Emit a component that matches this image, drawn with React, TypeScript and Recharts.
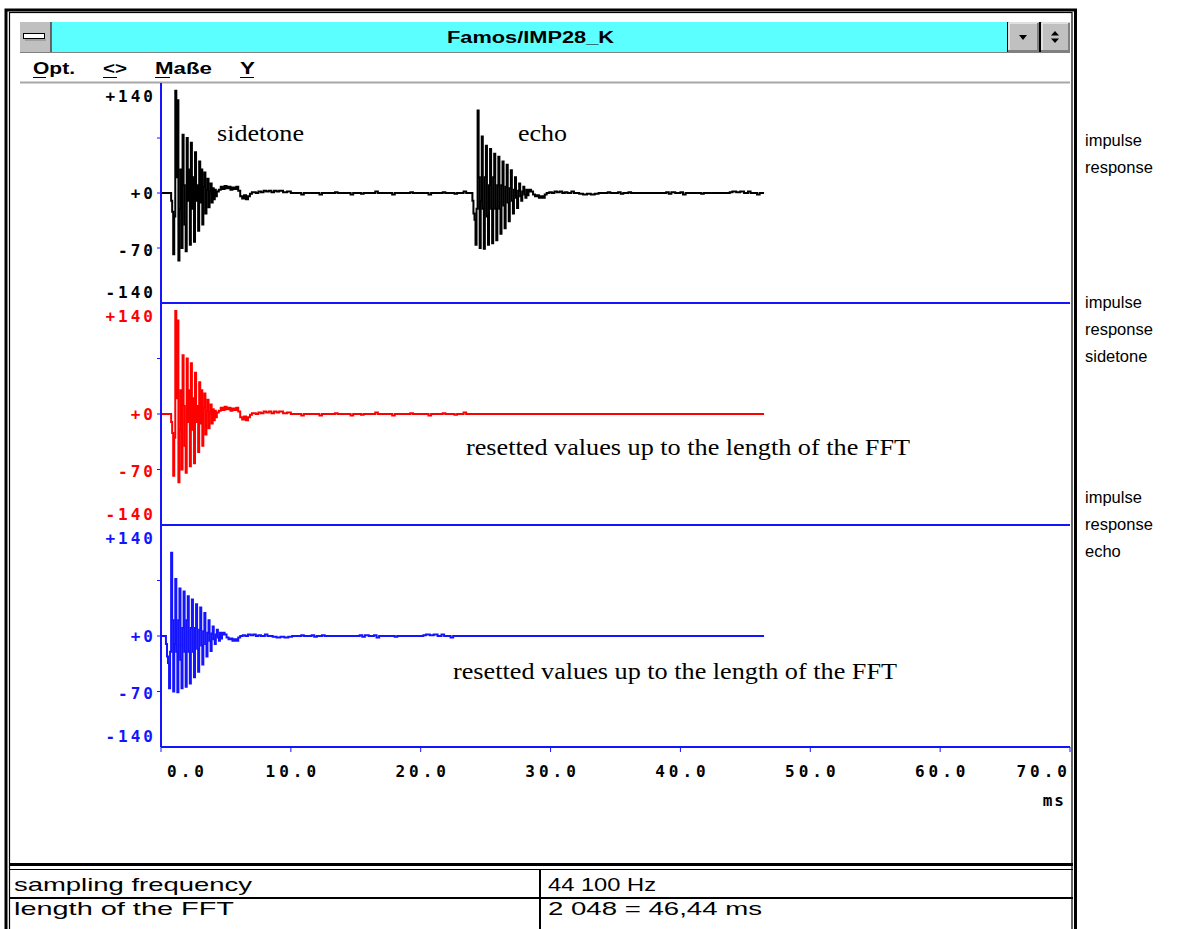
import { LineChart, Line, XAxis, YAxis, ReferenceLine } from "recharts";

// grid the bursts were read on (ms between readings, about one screen pixel)
const STEP_MS = 0.08;
const FFT_END_MS = 46.44;
const SIDETONE_START_MS = 0.7;
const ECHO_START_MS = 23.9;
const ECHO_ALONE_START_MS = 0.3;

// sidetone burst, values read every STEP_MS from SIDETONE_START_MS
const sidetoneBurst = [
  0, -10, -24, -78, -30, 130, 20, 118, -86, -20, 30, -70, 74, 10, -40, -74, 70, -10, 30, -66, 64,
  -20, 20, -62, 52, -10, 10, -48, 40, -12, 30, -40, 8, 26, -26, 4, 18, -18, 2, 12, -12, 6, -8, 4, -4, 2,
];

// small residue after the sidetone [ms, value]
const sidetoneTail = [
  [4.45, 4], [4.6, 8], [4.75, 5], [4.9, 9], [5.05, 6], [5.2, 8], [5.35, 4], [5.5, 7], [5.65, 5],
  [5.8, 8], [5.95, 3], [6.1, -4], [6.25, -7], [6.4, -3], [6.55, -8], [6.7, -4], [6.85, -1], [7.0, 1],
  [7.3, 0], [7.5, 2], [7.7, 1], [7.9, 3], [8.1, 2], [8.3, 3], [8.5, 1], [8.7, 3], [8.9, 2], [9.1, 3],
  [9.4, 1], [9.7, 2], [10.0, 0], [10.6, 0], [10.8, -2], [11.0, 0], [12.2, -2], [12.4, 0], [13.4, 1],
  [13.6, 0], [14.6, -2], [14.8, 0], [15.4, -1], [15.6, 0], [16.5, 2], [16.7, 0], [17.8, -2], [18.0, 0],
  [19.2, 1], [19.4, 0], [20.6, -2], [20.8, 0], [21.7, 1], [21.9, 0], [22.6, -1], [22.8, 0], [23.3, 2],
  [23.5, 0],
];

// echo burst, values read every STEP_MS from ECHO_START_MS
const echoBurst = [
  0, -10, -26, -34, -66, -20, 105, 20, -70, -10, 72, -20, -71, 20, 60, -30, -66, 10, 56, -20, -64, 20,
  50, -20, -60, 10, 46, -20, -52, 10, 40, -16, -45, 8, 36, -12, -36, 6, 29, -10, -26, 4, 20, -6, -19,
  3, 12, -4, -10, 2, 8, -2, -6, 4, -3, 2,
];

// residue after the echo [ms, value]
const echoTail = [
  [28.35, 4], [28.5, 2], [28.65, -2], [28.8, -4], [28.95, -3], [29.1, -6], [29.25, -4], [29.4, -6],
  [29.55, -2], [29.7, 0], [29.9, 1], [30.1, 0], [30.3, 2], [30.5, 1], [30.7, 2], [30.9, 0], [31.1, 1],
  [31.3, 0], [31.6, 2], [31.8, 0], [32.2, -1], [32.5, -2], [32.8, -1], [33.1, -2], [33.4, -1], [33.7, 0],
  [34.4, 1], [34.6, 0], [35.2, 1], [35.4, -1], [35.6, 0], [36.0, 1], [36.2, 0], [38.9, 1], [39.1, -1],
  [39.3, 1], [39.6, 0], [40.0, 1], [40.2, -2], [40.4, 0], [41.6, -1], [41.8, 0], [43.8, 1], [44.0, 2],
  [44.3, 1], [44.6, 2], [44.9, 0], [45.2, 2], [45.4, 0], [45.9, -2], [46.1, 0], [46.44, 0],
];

const xTicks = [0, 10, 20, 30, 40, 50, 60, 70];
const yTicks = [140, 70, 0, -70, -140];
const yTickLabels: Record<string, string> = { "140": "+140", "0": "+0", "-70": "-70", "-140": "-140" };

type Pt = { t: number; v: number };
const onGrid = (vals: number[], start: number): Pt[] =>
  vals.map((v, i) => ({ t: +(start + i * STEP_MS).toFixed(3), v }));
const fromPairs = (list: number[][], shift = 0): Pt[] =>
  list.map(([t, v]) => ({ t: +(t - shift).toFixed(3), v }));

const fullTrace = [
  { t: 0, v: 0 },
  ...onGrid(sidetoneBurst, SIDETONE_START_MS),
  ...fromPairs(sidetoneTail),
  ...onGrid(echoBurst, ECHO_START_MS),
  ...fromPairs(echoTail),
];
const sidetoneTrace = [
  { t: 0, v: 0 },
  ...onGrid(sidetoneBurst, SIDETONE_START_MS),
  ...fromPairs(sidetoneTail),
  { t: FFT_END_MS, v: 0 },
];
const echoTrace = [
  { t: 0, v: 0 },
  ...onGrid(echoBurst, ECHO_ALONE_START_MS),
  ...fromPairs(echoTail, ECHO_START_MS - ECHO_ALONE_START_MS),
  { t: FFT_END_MS, v: 0 },
];

const BLUE = "#1414ff";
const AXIS_X = 161;
const bitmapFont = {
  fontFamily: "'DejaVu Sans Mono', monospace",
  fontWeight: 700,
  fontSize: 16,
  letterSpacing: 3,
};

function YTick(props: any) {
  const { y, payload, color } = props;
  const v = payload.value;
  const label = yTickLabels[String(v)];
  const dy = v === 140 ? 13 : v === -140 ? -11 : v === -70 ? 2 : 0;
  return (
    <g>
      {Math.abs(v) < 140 && <line x1={AXIS_X - 4} x2={AXIS_X} y1={y} y2={y} stroke={BLUE} />}
      {label && (
        <text x={AXIS_X - 5} y={y + dy} textAnchor="end" dominantBaseline="central" fill={color} style={bitmapFont}>
          {label}
        </text>
      )}
    </g>
  );
}

function XTick(props: any) {
  const { x, payload } = props;
  const v = payload.value;
  const anchor = v === 0 ? "start" : v === 70 ? "end" : "middle";
  const dx = v === 0 ? 6 : v === 70 ? 1 : 2;
  return (
    <text x={x + dx} y={246} textAnchor={anchor} dominantBaseline="central" fill="#000" style={{ ...bitmapFont, letterSpacing: 4 }}>
      {v.toFixed(1)}
    </text>
  );
}

function Panel({ top, plotHeight, data, color, showX }: { top: number; plotHeight: number; data: Pt[]; color: string; showX?: boolean }) {
  const height = plotHeight + (showX ? 60 : 2);
  return (
    <div style={{ position: "absolute", left: 0, top, width: 1072, height }}>
      <LineChart width={1072} height={height} margin={{ top: 0, right: 2, bottom: showX ? 0 : 2, left: 0 }}>
        <XAxis
          type="number"
          dataKey="t"
          domain={[0, 70]}
          ticks={xTicks}
          interval={0}
          hide={!showX}
          height={60}
          axisLine={{ stroke: BLUE, strokeWidth: 2 }}
          tickLine={{ stroke: BLUE }}
          tickSize={5}
          tick={(p: any) => <XTick {...p} />}
        />
        <YAxis
          type="number"
          domain={[-140, 140]}
          ticks={yTicks}
          interval={0}
          width={AXIS_X}
          axisLine={{ stroke: BLUE, strokeWidth: 2 }}
          tickLine={false}
          tick={(p: any) => <YTick {...p} color={color} />}
        />
        {!showX && <ReferenceLine y={-140} stroke={BLUE} strokeWidth={2} />}
        <Line
          data={data}
          dataKey="v"
          type="stepAfter"
          stroke={color}
          strokeWidth={2}
          dot={false}
          activeDot={false}
          isAnimationActive={false}
        />
      </LineChart>
    </div>
  );
}

const sans = "'Liberation Sans', Arial, sans-serif";
const serif = "'Liberation Serif', 'Times New Roman', serif";

function Chrome() {
  return (
    <svg width={1187} height={929} style={{ position: "absolute", left: 0, top: 0 }}>
      <rect x={6} y={10} width={1069.5} height={940} fill="none" stroke="#000" strokeWidth={3} />
      <rect x={9.5} y={12.5} width={1062.5} height={940} fill="none" stroke="#000" strokeWidth={1.2} />
      {/* title bar */}
      <rect x={20} y={22} width={1050} height={30} fill="#5cffff" />
      <rect x={20} y={22} width={31} height={30} fill="#c0c0c0" />
      <line x1={51} x2={51} y1={22} y2={52} stroke="#000" />
      <rect x={23.5} y={33.5} width={21} height={5} fill="#fff" stroke="#000" />
      <line x1={25} x2={46} y1={40} y2={40} stroke="#808080" />
      <line x1={20} x2={1070} y1={52.5} y2={52.5} stroke="#808080" />
      <rect x={1008} y={22} width={31} height={30} fill="#c0c0c0" />
      <rect x={1041} y={22} width={29} height={30} fill="#c0c0c0" />
      <line x1={1007.5} x2={1007.5} y1={22} y2={52} stroke="#000" />
      <line x1={1040} x2={1040} y1={22} y2={52} stroke="#000" strokeWidth={2} />
      <polyline points="1009,51 1009,23 1038,23" fill="none" stroke="#fff" />
      <polyline points="1008,51 1038,51 1038,23" fill="none" stroke="#808080" strokeWidth={2} />
      <polyline points="1042,51 1042,23 1069,23" fill="none" stroke="#fff" />
      <polyline points="1041,51 1069,51 1069,23" fill="none" stroke="#808080" strokeWidth={2} />
      <polygon points="1019,35 1027,35 1023,40" fill="#000" />
      <polygon points="1051,35.5 1059,35.5 1055,31" fill="#000" />
      <polygon points="1051,38.5 1059,38.5 1055,43" fill="#000" />
      {/* menu separator */}
      <line x1={20} x2={1070} y1={82.5} y2={82.5} stroke="#a8a8a8" strokeWidth={2} />
      {/* info table */}
      <line x1={9} x2={1073} y1={864.5} y2={864.5} stroke="#000" strokeWidth={3} />
      <line x1={9} x2={1073} y1={869.5} y2={869.5} stroke="#000" strokeWidth={1.2} />
      <line x1={9} x2={1073} y1={898} y2={898} stroke="#000" strokeWidth={2} />
      <line x1={540} x2={540} y1={870} y2={929} stroke="#000" strokeWidth={2} />
    </svg>
  );
}

function Texts() {
  const menu = [
    { label: "Opt.", x: 33, w: 42 },
    { label: "<>", x: 103, w: 24 },
    { label: "Maße", x: 155, w: 57 },
    { label: "Y", x: 240, w: 15 },
  ];
  const sideLabels = [
    { lines: ["impulse", "response"], y: 146 },
    { lines: ["impulse", "response", "sidetone"], y: 308 },
    { lines: ["impulse", "response", "echo"], y: 503 },
  ];
  return (
    <svg width={1187} height={929} style={{ position: "absolute", left: 0, top: 0, pointerEvents: "none" }}>
      <text x={447} y={43} textLength={167} lengthAdjust="spacingAndGlyphs" style={{ fontFamily: sans, fontWeight: 700, fontSize: 16 }}>
        Famos/IMP28_K
      </text>
      {menu.map((m) => (
        <g key={m.label}>
          <text x={m.x} y={74} textLength={m.w} lengthAdjust="spacingAndGlyphs" style={{ fontFamily: sans, fontWeight: 700, fontSize: 16 }}>
            {m.label}
          </text>
          <line x1={m.x} x2={m.x + (m.label === "Opt." ? 13 : m.label === "Maße" ? 15 : 14)} y1={77.5} y2={77.5} stroke="#000" />
        </g>
      ))}
      {sideLabels.map((g, gi) =>
        g.lines.map((l, li) => (
          <text key={gi + l} x={1085} y={g.y + li * 27} style={{ fontFamily: sans, fontSize: 16.5 }}>
            {l}
          </text>
        ))
      )}
      <text x={217} y={141} textLength={87} lengthAdjust="spacingAndGlyphs" style={{ fontFamily: serif, fontSize: 24 }}>
        sidetone
      </text>
      <text x={518} y={141} textLength={49} lengthAdjust="spacingAndGlyphs" style={{ fontFamily: serif, fontSize: 24 }}>
        echo
      </text>
      <text x={466} y={455} textLength={444} lengthAdjust="spacingAndGlyphs" style={{ fontFamily: serif, fontSize: 24 }}>
        resetted values up to the length of the FFT
      </text>
      <text x={453} y={679} textLength={444} lengthAdjust="spacingAndGlyphs" style={{ fontFamily: serif, fontSize: 24 }}>
        resetted values up to the length of the FFT
      </text>
      <text x={1066} y={800} textAnchor="end" dominantBaseline="central" style={{ ...bitmapFont, letterSpacing: 2 }}>
        ms
      </text>
      <text x={14} y={891} textLength={238} lengthAdjust="spacingAndGlyphs" style={{ fontFamily: sans, fontSize: 19 }}>
        sampling frequency
      </text>
      <text x={548} y={891} textLength={108} lengthAdjust="spacingAndGlyphs" style={{ fontFamily: sans, fontSize: 19 }}>
        44 100 Hz
      </text>
      <text x={14} y={915} textLength={220} lengthAdjust="spacingAndGlyphs" style={{ fontFamily: sans, fontSize: 19 }}>
        length of the FFT
      </text>
      <text x={548} y={915} textLength={214} lengthAdjust="spacingAndGlyphs" style={{ fontFamily: sans, fontSize: 19 }}>
        2 048 = 46,44 ms
      </text>
    </svg>
  );
}

export default function App() {
  return (
    <div style={{ position: "absolute", left: 0, top: 0, width: 1187, height: 929, overflow: "hidden", background: "#fff" }}>
      <Chrome />
      <Panel top={83} plotHeight={220} data={fullTrace} color="#000000" />
      <Panel top={303} plotHeight={222} data={sidetoneTrace} color="#ff0000" />
      <Panel top={525} plotHeight={222} data={echoTrace} color={BLUE} showX />
      <Texts />
    </div>
  );
}
